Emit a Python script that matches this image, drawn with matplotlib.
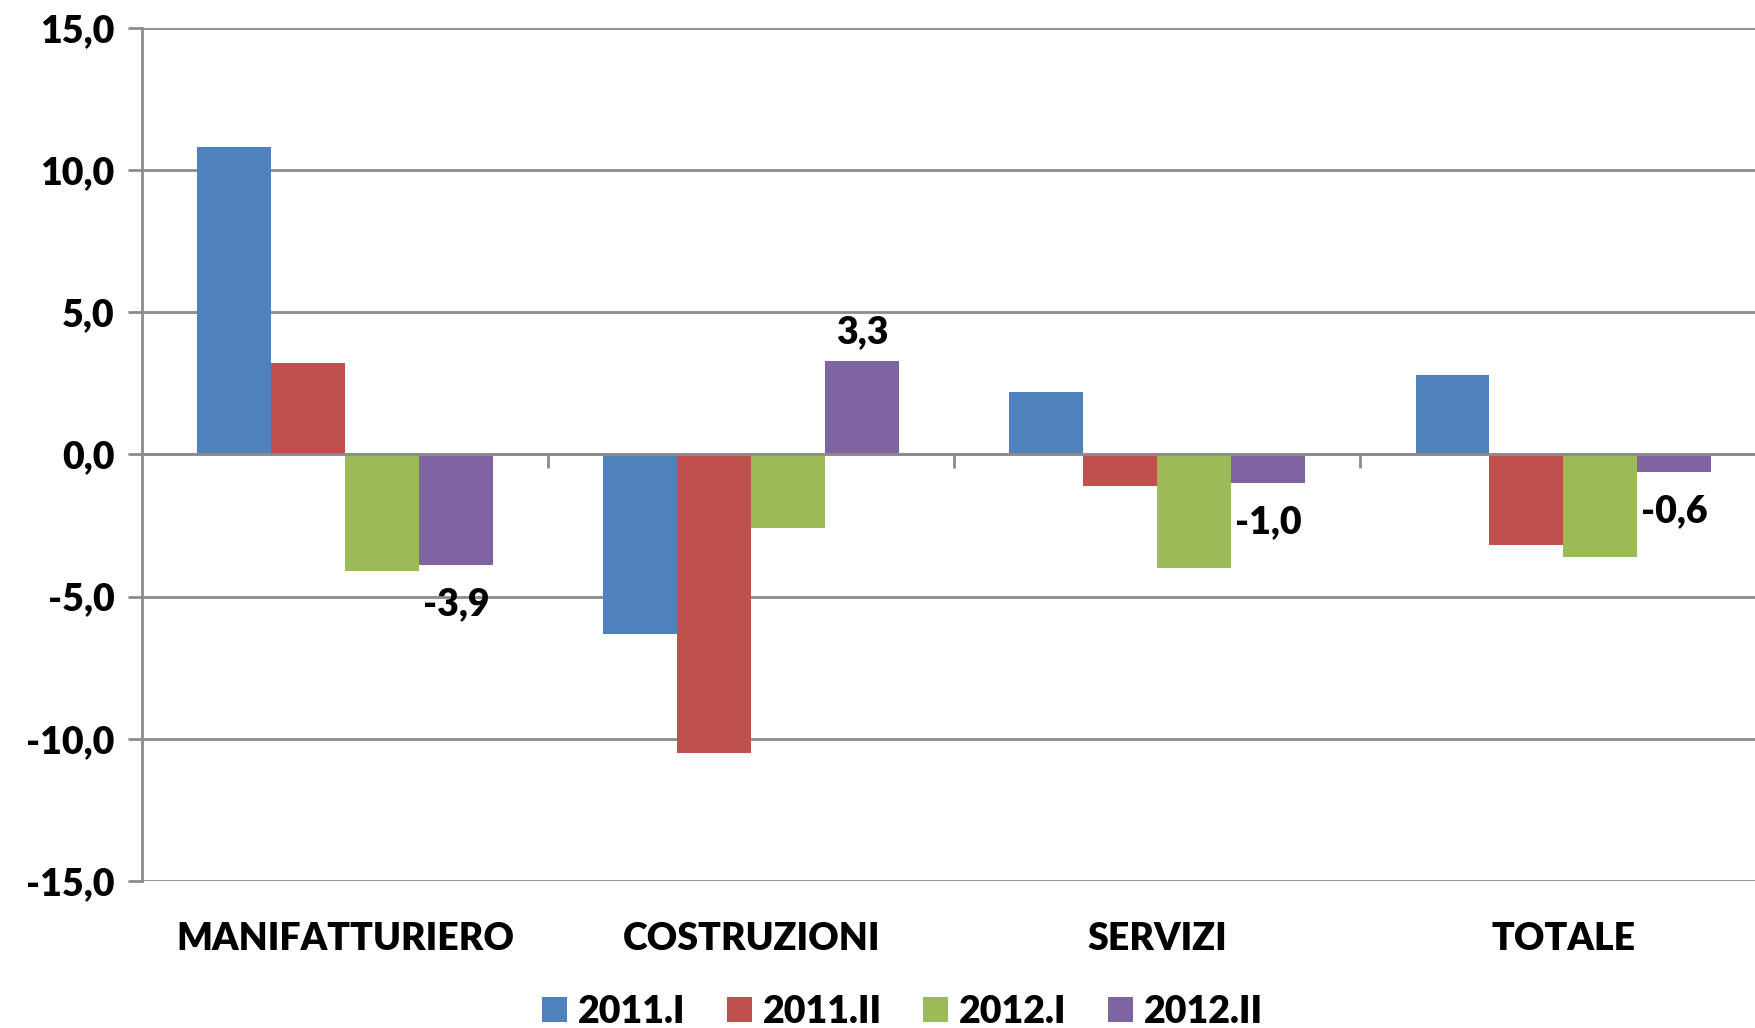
import matplotlib
matplotlib.use("Agg")
import matplotlib.pyplot as plt
import matplotlib.transforms as mtransforms
import numpy as np

plt.rcParams['font.family'] = ['Lato', 'DejaVu Sans']

categories = ["MANIFATTURIERO", "COSTRUZIONI", "SERVIZI", "TOTALE"]
series_names = ["2011.I", "2011.II", "2012.I", "2012.II"]
v_2011_I = [10.8, -6.3, 2.2, 2.8]
v_2011_II = [3.2, -10.5, -1.1, -3.2]
v_2012_I = [-4.1, -2.6, -4.0, -3.6]
v_2012_II = [-3.9, 3.3, -1.0, -0.6]
label_texts = ["-3,9", "3,3", "-1,0", "-0,6"]
yticks = [-15, -10, -5, 0, 5, 10, 15]
ytick_labels = ["-15,0", "-10,0", "-5,0", "0,0", "5,0", "10,0", "15,0"]
colors = ["#4F81BD", "#C0504D", "#9BBB59", "#8064A2"]

FW = 'heavy'
FS = 27

fig = plt.figure(figsize=(17.56, 10.28), dpi=100)
ax = fig.add_axes([0.0809, 0.143, 0.925, 0.8298])

x = np.arange(len(categories))
w = 0.182
all_series = [v_2011_I, v_2011_II, v_2012_I, v_2012_II]
for i, (vals, name, c) in enumerate(zip(all_series, series_names, colors)):
    ax.bar(x + (i - 1.5) * w, vals, width=w, color=c, label=name, zorder=3)

# data labels for last series
for xi, v, t in zip(x, v_2012_II, label_texts):
    xp = xi + 1.5 * w
    if v >= 0:
        ax.annotate(t, (xp, v), xytext=(0, 8), textcoords='offset points',
                    ha='center', va='bottom', fontsize=FS, fontweight=FW)
    else:
        ax.annotate(t, (xp, v), xytext=(0, -16), textcoords='offset points',
                    ha='center', va='top', fontsize=FS, fontweight=FW)

ax.set_xlim(-0.5, 3.5)
ax.set_ylim(-15, 15)
ax.set_yticks(yticks)
ax.set_yticklabels(ytick_labels, fontsize=FS, fontweight=FW)
ax.yaxis.grid(True, color='#8C8C8C', linewidth=2, zorder=0)
ax.set_axisbelow(True)

for s in ['top', 'right']:
    ax.spines[s].set_visible(False)
ax.spines['left'].set_color('#8C8C8C')
ax.spines['left'].set_linewidth(2)
ax.spines['bottom'].set_position(('data', 0))
ax.spines['bottom'].set_color('#8C8C8C')
ax.spines['bottom'].set_linewidth(2)
ax.spines['bottom'].set_zorder(4)

ax.set_xticks([0.5, 1.5, 2.5])
ax.set_xticklabels([])
ax.tick_params(axis='x', direction='out', length=10, width=2, color='#8C8C8C')
ax.tick_params(axis='y', direction='out', length=10, width=2, color='#8C8C8C', pad=10)

trans = mtransforms.blended_transform_factory(ax.transData, ax.transAxes)
for xi, cat in zip(x, categories):
    ax.text(xi, -0.068, cat, transform=trans, ha='center', va='center',
            fontsize=FS, fontweight=FW)

leg = fig.legend(loc='center', bbox_to_anchor=(0.514, 0.016), ncol=4, frameon=False,
                 handlelength=0.66, handleheight=0.66, handletextpad=0.3,
                 columnspacing=1.1, prop={'weight': FW, 'size': FS})

fig.savefig("out.png", dpi=100)
